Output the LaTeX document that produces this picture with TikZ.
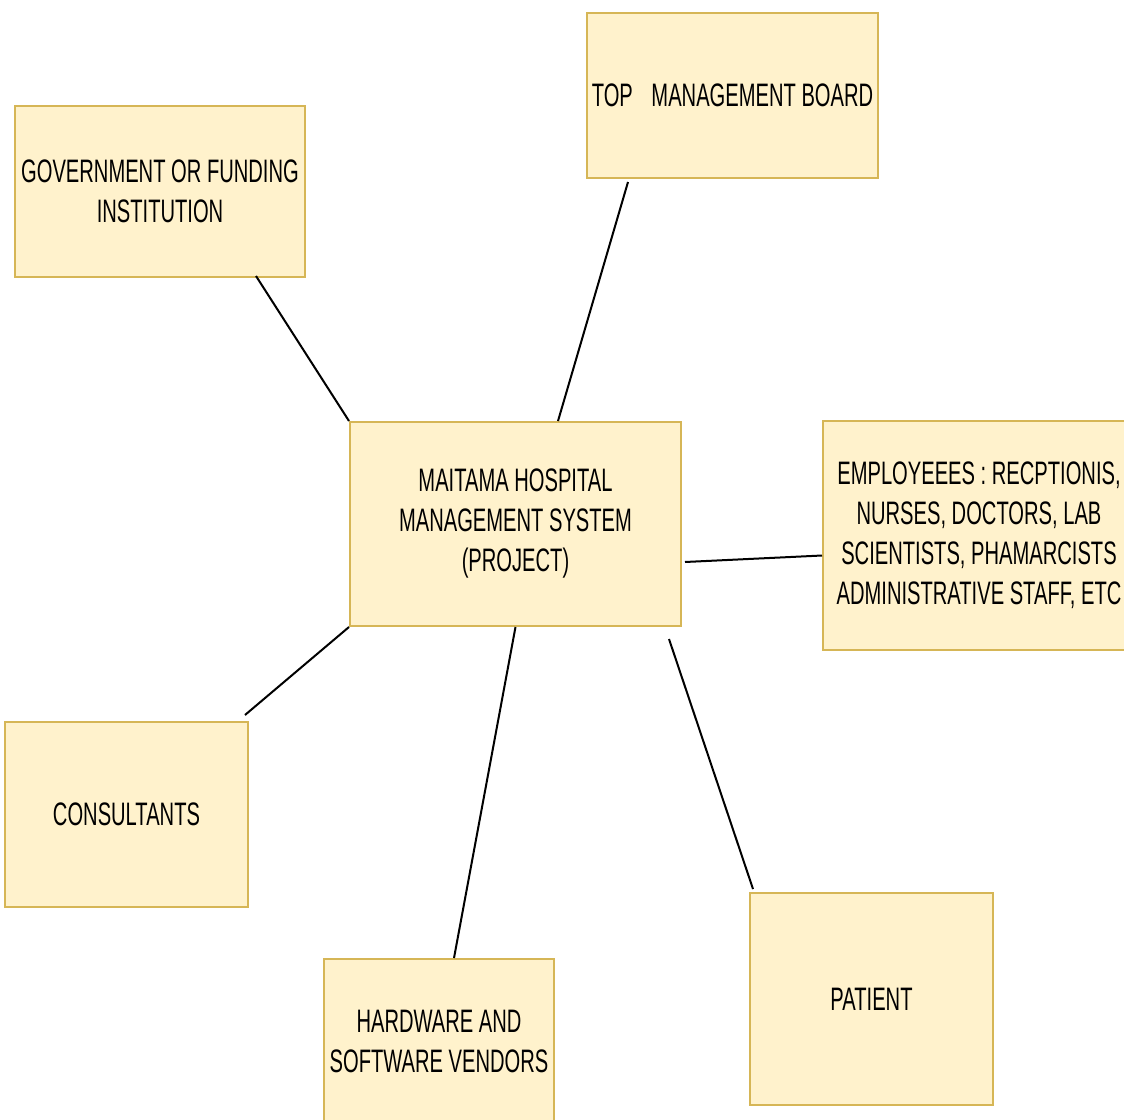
\documentclass[tikz,border=0pt]{standalone}
\usepackage{fontspec}
\setmainfont{Liberation Sans}[FakeStretch=0.62]
\usetikzlibrary{calc}
\definecolor{boxfill}{HTML}{FFF2CC}
\definecolor{boxline}{HTML}{D6B656}
\begin{document}
\begin{tikzpicture}[x=1pt,y=-1pt,
  box/.style={draw=boxline, fill=boxfill, line width=2pt, inner sep=0pt, align=center,
    font=\fontsize{32.5}{40}\selectfont},
  link/.style={draw=black, line width=2pt}]
\fill[white] (0,0) rectangle (1124,1119);
\useasboundingbox (0,0) rectangle (1124,1119);
\node[box, minimum width=291pt, minimum height=165pt] (top) at (732.5,95.5) {TOP\hspace{13pt} MANAGEMENT BOARD};
\node[box, minimum width=290pt, minimum height=171pt] (gov) at (160,191.5) {GOVERNMENT OR FUNDING\\INSTITUTION};
\node[box, minimum width=331pt, minimum height=204pt] (center) at (515.5,524) {MAITAMA HOSPITAL\\MANAGEMENT SYSTEM\\(PROJECT)};
\node[box, minimum width=312pt, minimum height=229pt] (emp) at (979,535.5) {EMPLOYEEES : RECPTIONIS,\\NURSES, DOCTORS, LAB\\SCIENTISTS, PHAMARCISTS\\ADMINISTRATIVE STAFF, ETC};
\node[box, minimum width=243pt, minimum height=185pt] (cons) at (126.5,814.5) {CONSULTANTS};
\node[box, minimum width=230pt, minimum height=164pt] (hw) at (439,1041) {HARDWARE AND\\SOFTWARE VENDORS};
\node[box, minimum width=243pt, minimum height=212pt] (pat) at (871.5,999) {PATIENT};
\draw[link] ([xshift=-50pt,yshift=2pt]gov.south east) -- (center.north west);
\draw[link] ([xshift=42pt,yshift=-3pt]top.south west) -- ([xshift=209pt]center.north west);
\draw[link] ([xshift=3pt,yshift=-38pt]center.east) -- ([yshift=-20pt]emp.west);
\draw[link] (center.south west) -- ([xshift=-4pt,yshift=6pt]cons.north east);
\draw[link] (center.south) -- ([xshift=15pt]hw.north);
\draw[link] ([xshift=-13pt,yshift=-12pt]center.south east) -- ([xshift=4pt,yshift=3pt]pat.north west);
\end{tikzpicture}
\end{document}
